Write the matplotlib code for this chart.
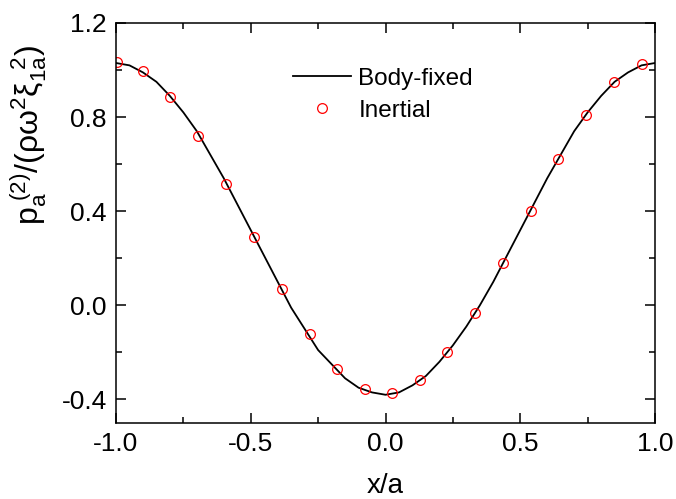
import matplotlib
matplotlib.use("Agg")
import matplotlib.pyplot as plt

# Body-fixed solution (solid line)
line_x = [-1.00, -0.95, -0.90, -0.85, -0.80, -0.75, -0.70, -0.65, -0.60, -0.55,
          -0.50, -0.45, -0.40, -0.35, -0.30, -0.25, -0.20, -0.15, -0.10, -0.05,
          0.00, 0.05, 0.10, 0.15, 0.20, 0.25, 0.30, 0.35, 0.40, 0.45,
          0.50, 0.55, 0.60, 0.65, 0.70, 0.75, 0.80, 0.85, 0.90, 0.95, 1.00]
line_y = [1.03, 1.02, 0.99, 0.95, 0.89, 0.82, 0.74, 0.64, 0.54, 0.43,
          0.32, 0.21, 0.10, -0.01, -0.10, -0.19, -0.25, -0.31, -0.35, -0.37,
          -0.38, -0.37, -0.34, -0.30, -0.24, -0.17, -0.09, 0.00, 0.10, 0.21,
          0.32, 0.43, 0.54, 0.64, 0.74, 0.82, 0.89, 0.95, 0.99, 1.02, 1.03]

# Inertial solution (open circles)
pts_x = [-0.996, -0.90, -0.80, -0.696, -0.592, -0.488, -0.384, -0.28, -0.18, -0.076,
         0.024, 0.128, 0.228, 0.332, 0.436, 0.54, 0.64, 0.744, 0.848, 0.952]
pts_y = [1.034, 0.996, 0.886, 0.719, 0.514, 0.29, 0.07, -0.123, -0.271, -0.355,
         -0.373, -0.319, -0.20, -0.033, 0.18, 0.40, 0.62, 0.809, 0.95, 1.027]

plt.rcParams["font.family"] = ["Liberation Sans", "DejaVu Sans"]
plt.rcParams["mathtext.fontset"] = "custom"
plt.rcParams["mathtext.rm"] = "Liberation Sans"
plt.rcParams["mathtext.it"] = "Liberation Sans"
plt.rcParams["mathtext.bf"] = "Liberation Sans:bold"

fig = plt.figure(figsize=(6.76, 4.99), dpi=100)
ax = fig.add_axes([116 / 676, 1 - 423 / 499, 539 / 676, 400 / 499])

ax.plot(line_x, line_y, color="black", lw=1.3, label="Body-fixed")
ax.plot(pts_x, pts_y, ls="none", marker="o", ms=7, mfc="none", mec="red",
        mew=0.9, label="Inertial")

ax.set_xlim(-1.0, 1.0)
ax.set_ylim(-0.5, 1.2)
ax.set_xticks([-1.0, -0.5, 0.0, 0.5, 1.0])
ax.set_xticks([-0.75, -0.25, 0.25, 0.75], minor=True)
ax.set_yticks([-0.4, 0.0, 0.4, 0.8, 1.2])
ax.set_yticks([-0.2, 0.2, 0.6, 1.0], minor=True)
ax.set_xticklabels(["-1.0", "-0.5", "0.0", "0.5", "1.0"])
ax.set_yticklabels(["-0.4", "0.0", "0.4", "0.8", "1.2"])
ax.tick_params(which="both", direction="in", top=True, right=True,
               labelsize=19, width=1.1)
ax.tick_params(which="major", length=7, pad=6.5)
ax.tick_params(which="minor", length=4)
for s in ax.spines.values():
    s.set_linewidth(1.1)

ax.set_xlabel("x/a", fontsize=20, labelpad=12)
ax.set_ylabel(r"$\mathrm{p_a^{\ (2)}/(\rho\omega^2\xi_{1a}^{\ \ 2})}$",
              fontsize=23)
ax.yaxis.set_label_coords(-0.125, 0.72)

ax.legend(loc="upper left", bbox_to_anchor=(0.328, 0.888), frameon=False,
          fontsize=17.5, handlelength=2.4, handletextpad=0.3,
          borderpad=0, borderaxespad=0, labelspacing=0.4)

fig.savefig("out.png", dpi=100)
